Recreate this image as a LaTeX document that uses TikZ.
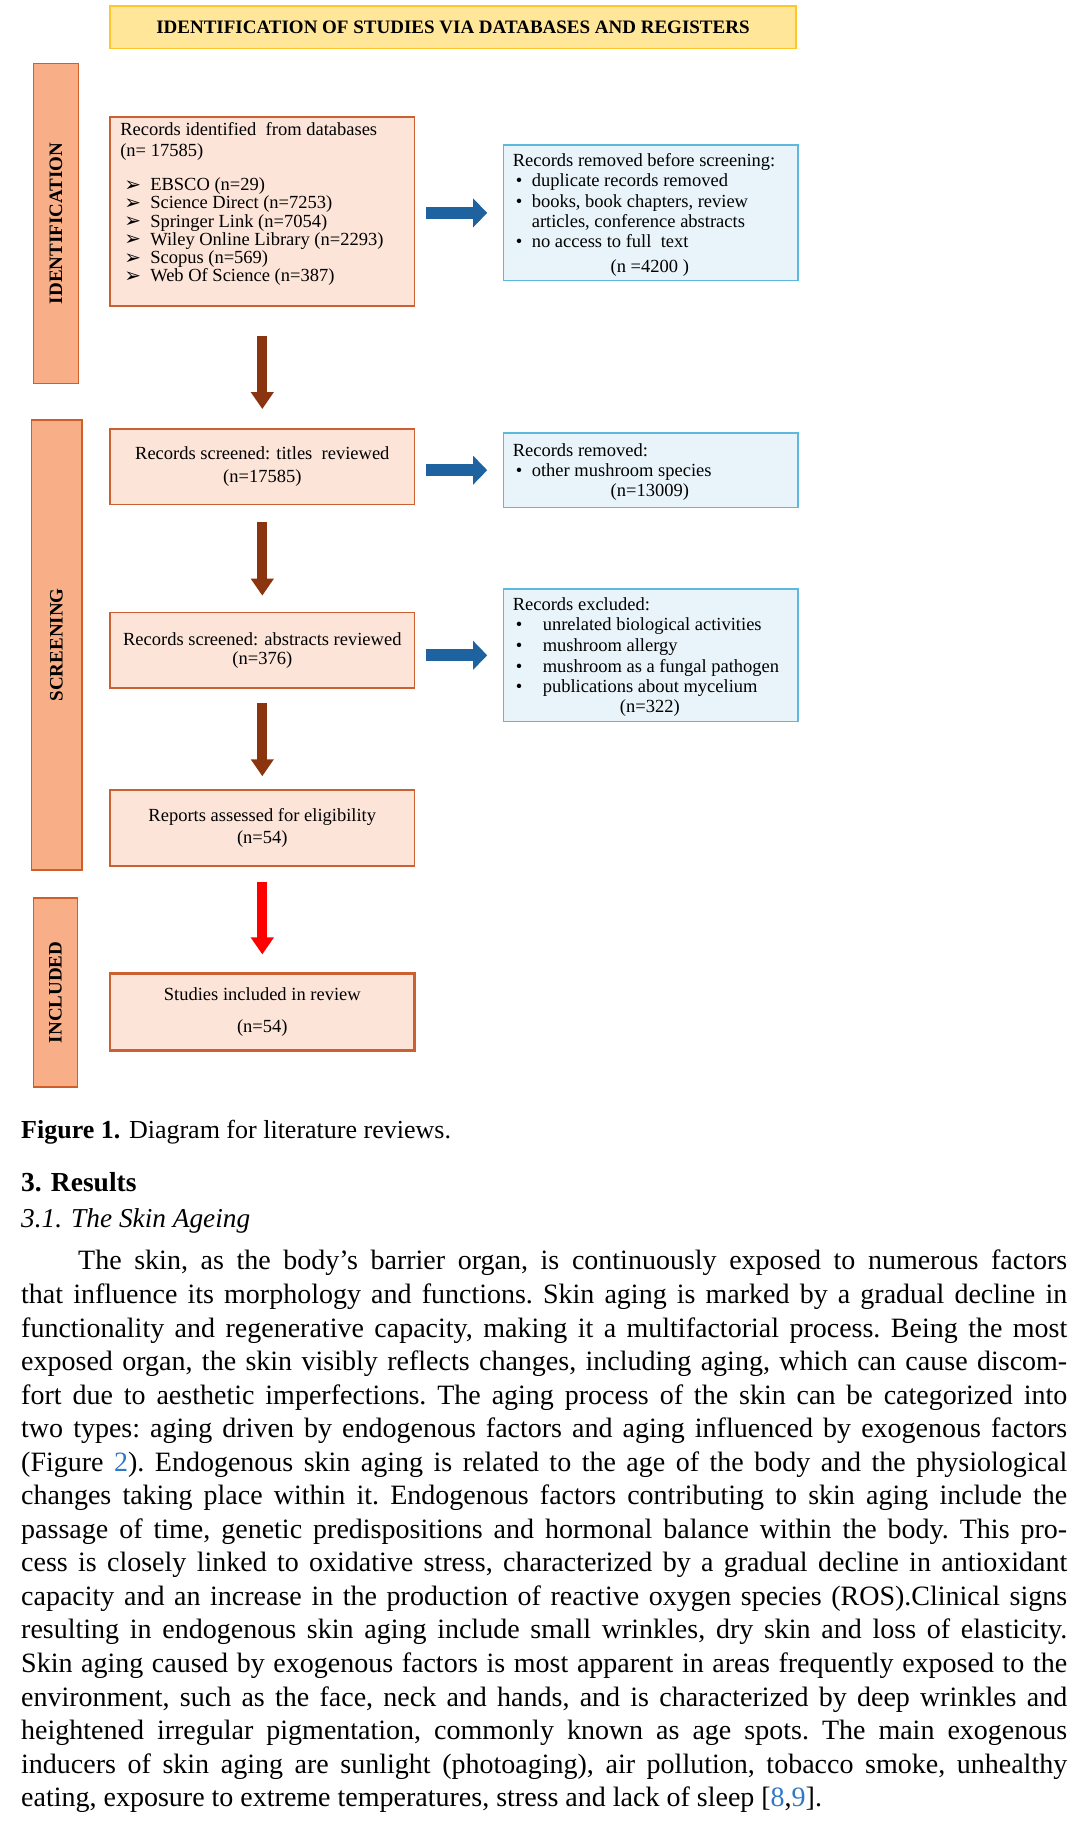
\documentclass[tikz,border=0pt]{standalone}
\usepackage{fontspec}
\setmainfont{Liberation Serif}
\newfontfamily\symfont{DejaVu Sans}
\usetikzlibrary{arrows.meta,calc}
\definecolor{hdrfill}{HTML}{FFE699}
\definecolor{hdrline}{HTML}{FFC629}
\definecolor{barfill}{HTML}{F8AE86}
\definecolor{barline}{HTML}{CF5F28}
\definecolor{boxfill}{HTML}{FCE4D8}
\definecolor{boxline}{HTML}{CC6030}
\definecolor{sidefill}{HTML}{E8F4FA}
\definecolor{sideline}{HTML}{5CB8DC}
\definecolor{bluearrow}{HTML}{1F62A0}
\definecolor{brownarrow}{HTML}{8A3510}
\definecolor{redarrow}{HTML}{FF0000}
\definecolor{linkblue}{HTML}{2F78C8}
\newcommand\jl[1]{\makebox[1046pt][s]{#1}}
\newcommand\arrb{\makebox[26pt][l]{\raisebox{-0.5pt}{\symfont\fontsize{20}{18}\selectfont ➢}}}
\begin{document}
\begin{tikzpicture}[x=1pt,y=-1pt,
  hdrbox/.style={draw=hdrline, fill=hdrfill, line width=1.5pt, minimum width=686pt, minimum height=42.4pt, inner sep=0pt, font=\fontsize{19}{22}\selectfont\bfseries},
  phasebar/.style={draw=barline, fill=barfill, line width=1.5pt, rotate=90, inner sep=0pt, font=\fontsize{19}{20}\selectfont\bfseries},
  mainbox/.style={draw=boxline, fill=boxfill, line width=1.6pt, minimum width=304.7pt, inner sep=0pt, align=center, font=\fontsize{18.5}{18.5}\selectfont},
  sidebox/.style={draw=sideline, fill=sidefill, line width=1.6pt, minimum width=294.6pt, inner sep=0pt},
  boxtext/.style={anchor=north west, inner sep=0pt, align=left, font=\fontsize{18.5}{20.2}\selectfont},
  ntext/.style={inner sep=0pt, font=\fontsize{18.5}{20}\selectfont},
  downarrow/.style={draw=brownarrow, line width=10pt, -{Triangle[width=22pt,length=17pt]}},
  redarrowstyle/.style={draw=redarrow, line width=10pt, -{Triangle[width=22pt,length=17pt]}},
  rightarrow/.style={draw=bluearrow, line width=12pt, -{Triangle[width=28pt,length=14pt]}},
  bodytext/.style={anchor=base west, inner sep=0pt}
]
\fill[white] (0,0) rectangle (1083,1822);
\useasboundingbox (0,0) rectangle (1083,1822);

% header
\node[hdrbox] (hdr) at (453,27.2) {IDENTIFICATION OF STUDIES VIA DATABASES AND REGISTERS};

% phase bars
\node[phasebar, minimum width=320pt, minimum height=45.4pt] (idbar) at (56,223.5) {IDENTIFICATION};
\node[phasebar, minimum width=450pt, minimum height=50.5pt] (scrbar) at (56.5,644.8) {SCREENING};
\node[phasebar, minimum width=188.7pt, minimum height=44.4pt] (incbar) at (55.5,992.4) {INCLUDED};

% main boxes
\node[mainbox, minimum height=188.7pt] (b1) at (262.3,211.4) {};
\node[mainbox, minimum height=75.7pt] (b2) at (262.3,466.7) {Records screened: titles\ \ reviewed\\[5pt](n=17585)};
\node[mainbox, minimum height=75.7pt] (b3) at (262.3,650.3) {Records screened: abstracts reviewed\\[1pt](n=376)};
\node[mainbox, minimum height=75.7pt] (b4) at (262.3,827.9) {Reports assessed for eligibility\\[3pt](n=54)};
\node[mainbox, minimum height=76.7pt, line width=2.4pt] (b5) at (262.3,1012) {Studies included in review\\[13pt](n=54)};

% side boxes
\node[sidebox, minimum height=135.2pt] (r1) at (650.8,212.9) {};
\node[sidebox, minimum height=74.7pt] (r2) at (650.8,470.2) {};
\node[sidebox, minimum height=132.2pt] (r3) at (650.8,655.3) {};

% box 1 text
\node[boxtext, font=\fontsize{18.5}{18.2}\selectfont] (t1) at (120.1,122.1) {Records identified\ \ from databases\\[3pt]
(n= 17585)\\[16pt]
\hspace*{4pt}\arrb EBSCO (n=29)\\
\hspace*{4pt}\arrb Science Direct (n=7253)\\
\hspace*{4pt}\arrb Springer Link (n=7054)\\
\hspace*{4pt}\arrb Wiley\ Online\ Library (n=2293)\\
\hspace*{4pt}\arrb Scopus (n=569)\\
\hspace*{4pt}\arrb Web Of Science (n=387)};

% side box texts
\node[boxtext] (t2) at (512.6,153.4) {Records removed before screening:\\
\hspace*{3pt}\makebox[16pt][l]{\textbullet}duplicate records removed\\
\hspace*{3pt}\makebox[16pt][l]{\textbullet}books, book chapters, review\\
\hspace*{19pt}articles,\ conference abstracts\\
\hspace*{3pt}\makebox[16pt][l]{\textbullet}no access to full\ \ text};
\node[ntext] (n2) at (649.8,268) {(n =4200 )};

\node[boxtext] (t3) at (512.6,443) {Records removed:\\
\hspace*{3pt}\makebox[16pt][l]{\textbullet}other mushroom species};
\node[ntext] (n3) at (649.8,492) {(n=13009)};

\node[boxtext, font=\fontsize{18.5}{20.6}\selectfont] (t4) at (512.6,597.3) {Records excluded:\\
\hspace*{3pt}\makebox[27pt][l]{\textbullet}unrelated\ biological\ activities\\
\hspace*{3pt}\makebox[27pt][l]{\textbullet}mushroom allergy\\
\hspace*{3pt}\makebox[27pt][l]{\textbullet}mushroom as a fungal\ pathogen\\
\hspace*{3pt}\makebox[27pt][l]{\textbullet}publications\ about mycelium};
\node[ntext] (n4) at (649.8,708.5) {(n=322)};

% arrows
\draw[downarrow, shorten <=29pt, shorten >=19pt] (b1.south) -- (b2.north);
\draw[downarrow, shorten <=17pt, shorten >=16pt] (b2.south) -- (b3.north);
\draw[downarrow, shorten <=14pt, shorten >=13pt] (b3.south) -- (b4.north);
\draw[redarrowstyle, shorten <=15pt, shorten >=18pt] (b4.south) -- (b5.north);
\draw[rightarrow, shorten <=10.5pt, shorten >=15.5pt] (r1.west -| b1.east) -- (r1.west);
\draw[rightarrow, shorten <=10.5pt, shorten >=15.5pt] (r2.west -| b2.east) -- (r2.west);
\draw[rightarrow, shorten <=10.5pt, shorten >=15.5pt] (r3.west -| b3.east) -- (r3.west);

% caption and text
\node[bodytext, font=\fontsize{26}{30}\selectfont] (cap) at (21,1138) {\textbf{Figure 1.} Diagram for literature reviews.};
\node[bodytext, font=\fontsize{27.5}{30}\selectfont\bfseries] (sec) at (21,1191.5) {3. Results};
\node[bodytext, font=\fontsize{27.3}{30}\selectfont\itshape] (subsec) at (21,1227) {3.1. The Skin Ageing};

\node[anchor=north west, inner sep=0pt, align=left, font=\fontsize{28}{33.55}\selectfont\frenchspacing] (para) at (21,1250) {%
\jl{\hspace*{57pt}The skin, as the body’s barrier organ, is continuously exposed to numerous factors}\\
\jl{that influence its morphology and functions. Skin aging is marked by a gradual decline in}\\
\jl{functionality and regenerative capacity, making it a multifactorial process. Being the most}\\
\jl{exposed organ, the skin visibly reflects changes, including aging, which can cause discom-}\\
\jl{fort due to aesthetic imperfections. The aging process of the skin can be categorized into}\\
\jl{two types: aging driven by endogenous factors and aging influenced by exogenous factors}\\
\jl{(Figure \textcolor{linkblue}{2}). Endogenous skin aging is related to the age of the body and the physiological}\\
\jl{changes taking place within it. Endogenous factors contributing to skin aging include the}\\
\jl{passage of time, genetic predispositions and hormonal balance within the body. This pro-}\\
\jl{cess is closely linked to oxidative stress, characterized by a gradual decline in antioxidant}\\
\jl{capacity and an increase in the production of reactive oxygen species (ROS).Clinical signs}\\
\jl{resulting in endogenous skin aging include small wrinkles, dry skin and loss of elasticity.}\\
\jl{Skin aging caused by exogenous factors is most apparent in areas frequently exposed to the}\\
\jl{environment, such as the face, neck and hands, and is characterized by deep wrinkles and}\\
\jl{heightened irregular pigmentation, commonly known as age spots. The main exogenous}\\
\jl{inducers of skin aging are sunlight (photoaging), air pollution, tobacco smoke, unhealthy}\\
eating, exposure to extreme temperatures, stress and lack of sleep [\textcolor{linkblue}{8},\textcolor{linkblue}{9}].};
\end{tikzpicture}
\end{document}
